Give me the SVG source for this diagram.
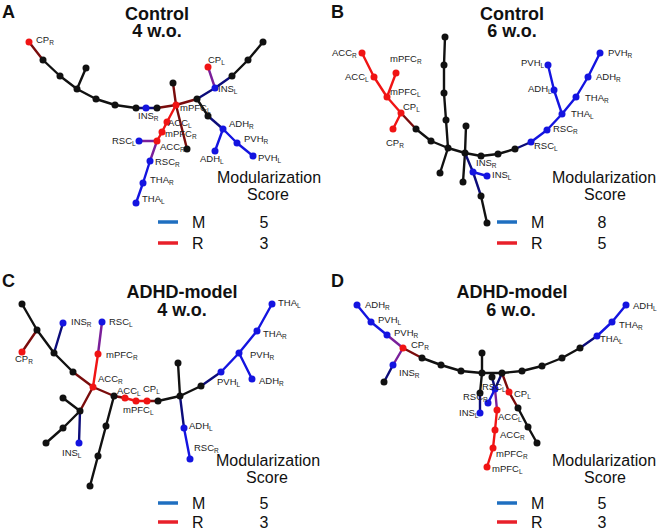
<svg xmlns="http://www.w3.org/2000/svg" width="657" height="531" viewBox="0 0 657 531">
<style>
.k{fill:#111}.r{fill:#f01414}.b{fill:#1414e0}
path{fill:none;stroke-width:2.4;stroke-linecap:round;stroke-linejoin:round}
.ek{stroke:#111}.er{stroke:#f01414}.eb{stroke:#1414e0}.edr{stroke:#7a0c0c}.edb{stroke:#0c0c7a}.ep{stroke:#7a1f9a}
.lb{font-family:"Liberation Sans",Arial,sans-serif;font-size:9.5px;fill:#222}
.s{font-size:6.5px}
.ttl{font-family:"Liberation Sans",Arial,sans-serif;font-size:18px;font-weight:bold;fill:#111;text-anchor:middle}
.pl{font-family:"Liberation Sans",Arial,sans-serif;font-size:18px;font-weight:bold;fill:#111}
.ms{font-family:"Liberation Sans",Arial,sans-serif;font-size:16px;fill:#111;text-anchor:middle}
.lg{font-family:"Liberation Sans",Arial,sans-serif;font-size:16px;fill:#111}
.lgb{stroke:#1f6fc0;stroke-width:3.5}.lgr{stroke:#e8202a;stroke-width:3.5}
</style>

<!-- ================= Panel A ================= -->
<g id="panelA">
<text class="pl" x="2" y="18">A</text>
<text class="ttl" x="157" y="20">Control</text>
<text class="ttl" x="157" y="37">4 w.o.</text>
<g id="A-connectors">
<path class="edr" d="M29,42 L43,60"/>
<path class="ek" d="M43,60 L60,76 L77,89 L96,99 L115,105 L136,108"/>
<path class="ek" d="M77,89 L86,68"/>
<path class="edb" d="M136,108 L146,108 L157,108"/>
<path class="edr" d="M157,108 L176,105"/>
<path class="edr" d="M176,105 L173,83"/>
<path class="edr" d="M176,105 L197,99"/>
<path class="edb" d="M197,99 L215,88 L232,76"/>
<path class="ek" d="M232,76 L248,60 L263,42"/>
<path class="ep" d="M215,88 L208,67"/>
<path class="er" d="M176,105 L167,122 L162,132 L157,141"/>
<path class="edr" d="M176,105 L187,149"/>
<path class="ep" d="M157,141 L139,141"/>
<path class="ep" d="M157,141 L150,161"/>
<path class="eb" d="M150,161 L143,183 L136,203"/>
<path class="ek" d="M197,99 L208,116"/>
<path class="edb" d="M208,116 L223,129"/>
<path class="eb" d="M223,129 L237,143 L253,156"/>
<path class="eb" d="M223,129 L215,151"/>
</g>
<g id="A-nodes">
<circle id="A-k1" class="k" cx="43" cy="60" r="3.5"/><circle id="A-k2" class="k" cx="60" cy="76" r="3.5"/>
<circle id="A-k3" class="k" cx="77" cy="89" r="3.5"/><circle id="A-k4" class="k" cx="86" cy="68" r="3.5"/>
<circle id="A-k5" class="k" cx="96" cy="99" r="3.5"/><circle id="A-k6" class="k" cx="115" cy="105" r="3.5"/>
<circle id="A-k7" class="k" cx="136" cy="108" r="3.5"/><circle id="A-k8" class="k" cx="157" cy="108" r="3.5"/>
<circle id="A-k9" class="k" cx="173" cy="83" r="3.5"/><circle id="A-k10" class="k" cx="197" cy="99" r="3.5"/>
<circle id="A-k11" class="k" cx="232" cy="76" r="3.5"/><circle id="A-k12" class="k" cx="248" cy="60" r="3.5"/>
<circle id="A-k13" class="k" cx="263" cy="42" r="3.5"/><circle id="A-k14" class="k" cx="187" cy="149" r="3.5"/>
<circle id="A-k15" class="k" cx="208" cy="116" r="3.5"/>
<g id="A-CPR"><circle class="r" cx="29" cy="42" r="3.5"/><text class="lb" x="36" y="43">CP<tspan class="s" dy="2">R</tspan></text></g>
<g id="A-CPL"><circle class="r" cx="208" cy="67" r="3.5"/><text class="lb" x="208" y="63">CP<tspan class="s" dy="2">L</tspan></text></g>
<g id="A-INSL"><circle class="b" cx="215" cy="88" r="3.5"/><text class="lb" x="218" y="92">INS<tspan class="s" dy="2">L</tspan></text></g>
<g id="A-INSR"><circle class="b" cx="146" cy="108" r="3.5"/><text class="lb" x="138" y="119">INS<tspan class="s" dy="2">R</tspan></text></g>
<g id="A-mPFCL"><circle class="r" cx="176" cy="105" r="3.5"/><text class="lb" x="180" y="111">mPFC<tspan class="s" dy="2">L</tspan></text></g>
<g id="A-ACCL"><circle class="r" cx="167" cy="122" r="3.5"/><text class="lb" x="168" y="126">ACC<tspan class="s" dy="2">L</tspan></text></g>
<g id="A-mPFCR"><circle class="r" cx="162" cy="132" r="3.5"/><text class="lb" x="165" y="137">mPFC<tspan class="s" dy="2">R</tspan></text></g>
<g id="A-ACCR"><circle class="r" cx="157" cy="141" r="3.5"/><text class="lb" x="160" y="150">ACC<tspan class="s" dy="2">R</tspan></text></g>
<g id="A-RSCL"><circle class="b" cx="139" cy="141" r="3.5"/><text class="lb" x="112" y="144">RSC<tspan class="s" dy="2">L</tspan></text></g>
<g id="A-RSCR"><circle class="b" cx="150" cy="161" r="3.5"/><text class="lb" x="155" y="165">RSC<tspan class="s" dy="2">R</tspan></text></g>
<g id="A-THAR"><circle class="b" cx="143" cy="183" r="3.5"/><text class="lb" x="150" y="183">THA<tspan class="s" dy="2">R</tspan></text></g>
<g id="A-THAL"><circle class="b" cx="136" cy="203" r="3.5"/><text class="lb" x="142" y="202">THA<tspan class="s" dy="2">L</tspan></text></g>
<g id="A-ADHR"><circle class="b" cx="223" cy="129" r="3.5"/><text class="lb" x="229" y="127">ADH<tspan class="s" dy="2">R</tspan></text></g>
<g id="A-PVHR"><circle class="b" cx="237" cy="143" r="3.5"/><text class="lb" x="244" y="142">PVH<tspan class="s" dy="2">R</tspan></text></g>
<g id="A-PVHL"><circle class="b" cx="253" cy="156" r="3.5"/><text class="lb" x="258" y="161">PVH<tspan class="s" dy="2">L</tspan></text></g>
<g id="A-ADHL"><circle class="b" cx="215" cy="151" r="3.5"/><text class="lb" x="200" y="162">ADH<tspan class="s" dy="2">L</tspan></text></g>
</g>
<g id="A-legend">
<text class="ms" x="269" y="183">Modularization</text>
<text class="ms" x="268" y="200">Score</text>
<line class="lgb" x1="158" y1="222" x2="178" y2="222"/>
<line class="lgr" x1="158" y1="243" x2="178" y2="243"/>
<text class="lg" x="192" y="228">M</text><text class="ms" x="264" y="228">5</text>
<text class="lg" x="192" y="249">R</text><text class="ms" x="264" y="249">3</text>
</g>
</g>

<!-- ================= Panel B ================= -->
<g id="panelB">
<text class="pl" x="331" y="18">B</text>
<text class="ttl" x="512" y="20">Control</text>
<text class="ttl" x="512" y="37">6 w.o.</text>
<g id="B-connectors">
<path class="er" d="M362,53 L374,77 L387,97 L401,113"/>
<path class="er" d="M396,73 L387,97"/>
<path class="er" d="M401,113 L393,129"/>
<path class="edr" d="M401,113 L416,129"/>
<path class="ek" d="M416,129 L431,141 L448,148"/>
<path class="ek" d="M445,37 L444,65 L444,93 L446,120 L448,148"/>
<path class="ek" d="M448,148 L440,173"/>
<path class="ek" d="M448,148 L465,153"/>
<path class="ek" d="M465,153 L466,126"/>
<path class="ek" d="M465,153 L463,182"/>
<path class="edb" d="M465,153 L473,172 L481,196"/>
<path class="ek" d="M481,196 L487,223"/>
<path class="eb" d="M473,172 L487,176"/>
<path class="ek" d="M465,153 L481,156 L498,154 L515,149"/>
<path class="edb" d="M515,149 L531,142"/>
<path class="eb" d="M531,142 L547,130 L562,114"/>
<path class="eb" d="M562,114 L554,90 L548,65"/>
<path class="eb" d="M562,114 L576,97 L588,77 L600,53"/>
</g>
<g id="B-nodes">
<circle id="B-k1" class="k" cx="416" cy="129" r="3.5"/><circle id="B-k2" class="k" cx="431" cy="141" r="3.5"/>
<circle id="B-k3" class="k" cx="448" cy="148" r="3.5"/><circle id="B-k4" class="k" cx="445" cy="37" r="3.5"/>
<circle id="B-k5" class="k" cx="444" cy="65" r="3.5"/><circle id="B-k6" class="k" cx="444" cy="93" r="3.5"/>
<circle id="B-k7" class="k" cx="446" cy="120" r="3.5"/><circle id="B-k8" class="k" cx="440" cy="173" r="3.5"/>
<circle id="B-k9" class="k" cx="465" cy="153" r="3.5"/><circle id="B-k10" class="k" cx="466" cy="126" r="3.5"/>
<circle id="B-k11" class="k" cx="463" cy="182" r="3.5"/><circle id="B-k12" class="k" cx="481" cy="196" r="3.5"/>
<circle id="B-k13" class="k" cx="487" cy="223" r="3.5"/><circle id="B-k14" class="k" cx="481" cy="156" r="3.5"/>
<circle id="B-k15" class="k" cx="498" cy="154" r="3.5"/><circle id="B-k16" class="k" cx="515" cy="149" r="3.5"/>
<g id="B-ACCR"><circle class="r" cx="362" cy="53" r="3.5"/><text class="lb" x="332" y="56">ACC<tspan class="s" dy="2">R</tspan></text></g>
<g id="B-ACCL"><circle class="r" cx="374" cy="77" r="3.5"/><text class="lb" x="345" y="80">ACC<tspan class="s" dy="2">L</tspan></text></g>
<g id="B-mPFCR"><circle class="r" cx="396" cy="73" r="3.5"/><text class="lb" x="390" y="62">mPFC<tspan class="s" dy="2">R</tspan></text></g>
<g id="B-mPFCL"><circle class="r" cx="387" cy="97" r="3.5"/><text class="lb" x="390" y="95">mPFC<tspan class="s" dy="2">L</tspan></text></g>
<g id="B-CPL"><circle class="r" cx="401" cy="113" r="3.5"/><text class="lb" x="403" y="110">CP<tspan class="s" dy="2">L</tspan></text></g>
<g id="B-CPR"><circle class="r" cx="393" cy="129" r="3.5"/><text class="lb" x="386" y="146">CP<tspan class="s" dy="2">R</tspan></text></g>
<g id="B-PVHR"><circle class="b" cx="600" cy="53" r="3.5"/><text class="lb" x="608" y="56">PVH<tspan class="s" dy="2">R</tspan></text></g>
<g id="B-ADHR"><circle class="b" cx="588" cy="77" r="3.5"/><text class="lb" x="596" y="80">ADH<tspan class="s" dy="2">R</tspan></text></g>
<g id="B-THAR"><circle class="b" cx="576" cy="97" r="3.5"/><text class="lb" x="585" y="101">THA<tspan class="s" dy="2">R</tspan></text></g>
<g id="B-PVHL"><circle class="b" cx="548" cy="65" r="3.5"/><text class="lb" x="521" y="66">PVH<tspan class="s" dy="2">L</tspan></text></g>
<g id="B-ADHL"><circle class="b" cx="554" cy="90" r="3.5"/><text class="lb" x="528" y="92">ADH<tspan class="s" dy="2">L</tspan></text></g>
<g id="B-THAL"><circle class="b" cx="562" cy="114" r="3.5"/><text class="lb" x="571" y="117">THA<tspan class="s" dy="2">L</tspan></text></g>
<g id="B-RSCR"><circle class="b" cx="547" cy="130" r="3.5"/><text class="lb" x="553" y="132">RSC<tspan class="s" dy="2">R</tspan></text></g>
<g id="B-RSCL"><circle class="b" cx="531" cy="142" r="3.5"/><text class="lb" x="534" y="149">RSC<tspan class="s" dy="2">L</tspan></text></g>
<g id="B-INSR"><circle class="b" cx="473" cy="172" r="3.5"/><text class="lb" x="476" y="166">INS<tspan class="s" dy="2">R</tspan></text></g>
<g id="B-INSL"><circle class="b" cx="487" cy="176" r="3.5"/><text class="lb" x="492" y="178">INS<tspan class="s" dy="2">L</tspan></text></g>
</g>
<g id="B-legend">
<text class="ms" x="604" y="183">Modularization</text>
<text class="ms" x="605" y="200">Score</text>
<line class="lgb" x1="497" y1="222" x2="517" y2="222"/>
<line class="lgr" x1="497" y1="243" x2="517" y2="243"/>
<text class="lg" x="531" y="228">M</text><text class="ms" x="602" y="228">8</text>
<text class="lg" x="531" y="249">R</text><text class="ms" x="602" y="249">5</text>
</g>
</g>

<!-- ================= Panel C ================= -->
<g id="panelC">
<text class="pl" x="2" y="287">C</text>
<text class="ttl" x="182" y="298">ADHD-model</text>
<text class="ttl" x="182" y="316">4 w.o.</text>
<g id="C-connectors">
<path class="ek" d="M22,304 L37,330 L54,353 L73,372"/>
<path class="edr" d="M37,330 L22,352"/>
<path class="edb" d="M54,353 L63,323"/>
<path class="edr" d="M73,372 L93,387"/>
<path class="ep" d="M102,322 L98,354"/>
<path class="er" d="M98,354 L93,387"/>
<path class="edr" d="M93,387 L80,411"/>
<path class="ek" d="M80,411 L63,398"/>
<path class="ek" d="M80,411 L63,428 L46,443"/>
<path class="edb" d="M80,411 L79,443"/>
<path class="edr" d="M93,387 L114,396 L125,398"/>
<path class="er" d="M125,398 L136,401 L147,401"/>
<path class="edr" d="M147,401 L158,401"/>
<path class="ek" d="M158,401 L180,396"/>
<path class="ek" d="M114,396 L106,426 L98,456 L90,486"/>
<path class="ek" d="M180,396 L178,363"/>
<path class="edb" d="M180,396 L184,428"/>
<path class="eb" d="M184,428 L190,459"/>
<path class="ek" d="M180,396 L201,386"/>
<path class="edb" d="M201,386 L221,372"/>
<path class="eb" d="M221,372 L239,353 L252,379"/>
<path class="eb" d="M239,353 L257,331 L272,304"/>
</g>
<g id="C-nodes">
<circle id="C-k1" class="k" cx="22" cy="304" r="3.5"/><circle id="C-k2" class="k" cx="37" cy="330" r="3.5"/>
<circle id="C-k3" class="k" cx="54" cy="353" r="3.5"/><circle id="C-k4" class="k" cx="73" cy="372" r="3.5"/>
<circle id="C-k5" class="k" cx="80" cy="411" r="3.5"/><circle id="C-k6" class="k" cx="63" cy="398" r="3.5"/>
<circle id="C-k7" class="k" cx="63" cy="428" r="3.5"/><circle id="C-k8" class="k" cx="46" cy="443" r="3.5"/>
<circle id="C-k9" class="k" cx="114" cy="396" r="3.5"/><circle id="C-k10" class="k" cx="158" cy="401" r="3.5"/>
<circle id="C-k11" class="k" cx="180" cy="396" r="3.5"/><circle id="C-k12" class="k" cx="178" cy="363" r="3.5"/>
<circle id="C-k13" class="k" cx="106" cy="426" r="3.5"/><circle id="C-k14" class="k" cx="98" cy="456" r="3.5"/>
<circle id="C-k15" class="k" cx="90" cy="486" r="3.5"/><circle id="C-k16" class="k" cx="201" cy="386" r="3.5"/>
<g id="C-CPR"><circle class="r" cx="22" cy="352" r="3.5"/><text class="lb" x="15" y="362">CP<tspan class="s" dy="2">R</tspan></text></g>
<g id="C-INSR"><circle class="b" cx="63" cy="323" r="3.5"/><text class="lb" x="71" y="325">INS<tspan class="s" dy="2">R</tspan></text></g>
<g id="C-RSCL"><circle class="b" cx="102" cy="322" r="3.5"/><text class="lb" x="109" y="325">RSC<tspan class="s" dy="2">L</tspan></text></g>
<g id="C-mPFCR"><circle class="r" cx="98" cy="354" r="3.5"/><text class="lb" x="106" y="358">mPFC<tspan class="s" dy="2">R</tspan></text></g>
<g id="C-ACCR"><circle class="r" cx="93" cy="387" r="3.5"/><text class="lb" x="98" y="382">ACC<tspan class="s" dy="2">R</tspan></text></g>
<g id="C-ACCL"><circle class="r" cx="125" cy="398" r="3.5"/><text class="lb" x="117" y="394">ACC<tspan class="s" dy="2">L</tspan></text></g>
<g id="C-mPFCL"><circle class="r" cx="136" cy="401" r="3.5"/><text class="lb" x="123" y="413">mPFC<tspan class="s" dy="2">L</tspan></text></g>
<g id="C-CPL"><circle class="r" cx="147" cy="401" r="3.5"/><text class="lb" x="143" y="392">CP<tspan class="s" dy="2">L</tspan></text></g>
<g id="C-INSL"><circle class="b" cx="79" cy="443" r="3.5"/><text class="lb" x="62" y="456">INS<tspan class="s" dy="2">L</tspan></text></g>
<g id="C-ADHL"><circle class="b" cx="184" cy="428" r="3.5"/><text class="lb" x="189" y="429">ADH<tspan class="s" dy="2">L</tspan></text></g>
<g id="C-RSCR"><circle class="b" cx="190" cy="459" r="3.5"/><text class="lb" x="194" y="451">RSC<tspan class="s" dy="2">R</tspan></text></g>
<g id="C-PVHL"><circle class="b" cx="221" cy="372" r="3.5"/><text class="lb" x="217" y="385">PVH<tspan class="s" dy="2">L</tspan></text></g>
<g id="C-PVHR"><circle class="b" cx="239" cy="353" r="3.5"/><text class="lb" x="250" y="358">PVH<tspan class="s" dy="2">R</tspan></text></g>
<g id="C-ADHR"><circle class="b" cx="252" cy="379" r="3.5"/><text class="lb" x="259" y="384">ADH<tspan class="s" dy="2">R</tspan></text></g>
<g id="C-THAR"><circle class="b" cx="257" cy="331" r="3.5"/><text class="lb" x="263" y="337">THA<tspan class="s" dy="2">R</tspan></text></g>
<g id="C-THAL"><circle class="b" cx="272" cy="304" r="3.5"/><text class="lb" x="278" y="306">THA<tspan class="s" dy="2">L</tspan></text></g>
</g>
<g id="C-legend">
<text class="ms" x="268" y="466">Modularization</text>
<text class="ms" x="267" y="483">Score</text>
<line class="lgb" x1="158" y1="503" x2="178" y2="503"/>
<line class="lgr" x1="158" y1="522" x2="178" y2="522"/>
<text class="lg" x="192" y="509">M</text><text class="ms" x="264" y="509">5</text>
<text class="lg" x="192" y="528">R</text><text class="ms" x="264" y="528">3</text>
</g>
</g>

<!-- ================= Panel D ================= -->
<g id="panelD">
<text class="pl" x="331" y="287">D</text>
<text class="ttl" x="512" y="298">ADHD-model</text>
<text class="ttl" x="511" y="316">6 w.o.</text>
<g id="D-connectors">
<path class="eb" d="M357,305 L371,322 L387,335"/>
<path class="ep" d="M387,335 L403,348 L393,365"/>
<path class="edb" d="M393,365 L384,382"/>
<path class="edr" d="M403,348 L422,358"/>
<path class="ek" d="M422,358 L441,365 L461,371 L482,373 L502,373 L522,371 L542,366 L562,358 L580,348"/>
<path class="edb" d="M580,348 L597,336"/>
<path class="eb" d="M597,336 L612,322 L626,305"/>
<path class="ek" d="M482,373 L482,353"/>
<path class="ek" d="M482,373 L480,393"/>
<path class="edb" d="M480,393 L480,413"/>
<path class="edr" d="M502,373 L509,392 L518,408"/>
<path class="ek" d="M518,408 L528,427 L537,443"/>
<path class="edb" d="M502,373 L495,389"/>
<path class="edb" d="M492,377 L495,389"/>
<path class="eb" d="M495,389 L488,403"/>
<path class="ep" d="M495,389 L497,410"/>
<path class="er" d="M497,410 L495,430 L493,448 L487,467"/>
</g>
<g id="D-nodes">
<circle id="D-k1" class="k" cx="384" cy="382" r="3.5"/><circle id="D-k2" class="k" cx="422" cy="358" r="3.5"/>
<circle id="D-k3" class="k" cx="441" cy="365" r="3.5"/><circle id="D-k4" class="k" cx="461" cy="371" r="3.5"/>
<circle id="D-k5" class="k" cx="482" cy="373" r="3.5"/><circle id="D-k6" class="k" cx="482" cy="353" r="3.5"/>
<circle id="D-k7" class="k" cx="480" cy="393" r="3.5"/><circle id="D-k8" class="k" cx="502" cy="373" r="3.5"/>
<circle id="D-k9" class="k" cx="522" cy="371" r="3.5"/><circle id="D-k10" class="k" cx="542" cy="366" r="3.5"/>
<circle id="D-k11" class="k" cx="562" cy="358" r="3.5"/><circle id="D-k12" class="k" cx="580" cy="348" r="3.5"/>
<circle id="D-k13" class="k" cx="518" cy="408" r="3.5"/><circle id="D-k14" class="k" cx="528" cy="427" r="3.5"/>
<circle id="D-k15" class="k" cx="537" cy="443" r="3.5"/><circle id="D-k16" class="k" cx="492" cy="377" r="3.5"/>
<g id="D-ADHR"><circle class="b" cx="357" cy="305" r="3.5"/><text class="lb" x="365" y="308">ADH<tspan class="s" dy="2">R</tspan></text></g>
<g id="D-PVHL"><circle class="b" cx="371" cy="322" r="3.5"/><text class="lb" x="378" y="323">PVH<tspan class="s" dy="2">L</tspan></text></g>
<g id="D-PVHR"><circle class="b" cx="387" cy="335" r="3.5"/><text class="lb" x="394" y="336">PVH<tspan class="s" dy="2">R</tspan></text></g>
<g id="D-CPR"><circle class="r" cx="403" cy="348" r="3.5"/><text class="lb" x="411" y="348">CP<tspan class="s" dy="2">R</tspan></text></g>
<g id="D-INSR"><circle class="b" cx="393" cy="365" r="3.5"/><text class="lb" x="399" y="376">INS<tspan class="s" dy="2">R</tspan></text></g>
<g id="D-THAL"><circle class="b" cx="597" cy="336" r="3.5"/><text class="lb" x="600" y="342">THA<tspan class="s" dy="2">L</tspan></text></g>
<g id="D-THAR"><circle class="b" cx="612" cy="322" r="3.5"/><text class="lb" x="619" y="328">THA<tspan class="s" dy="2">R</tspan></text></g>
<g id="D-ADHL"><circle class="b" cx="626" cy="305" r="3.5"/><text class="lb" x="633" y="309">ADH<tspan class="s" dy="2">L</tspan></text></g>
<g id="D-INSL"><circle class="b" cx="480" cy="413" r="3.5"/><text class="lb" x="459" y="416">INS<tspan class="s" dy="2">L</tspan></text></g>
<g id="D-RSCR"><circle class="b" cx="488" cy="403" r="3.5"/><text class="lb" x="463" y="400">RSC<tspan class="s" dy="2">R</tspan></text></g>
<g id="D-RSCL"><circle class="b" cx="495" cy="389" r="3.5"/><text class="lb" x="482" y="390">RSC<tspan class="s" dy="2">L</tspan></text></g>
<g id="D-CPL"><circle class="r" cx="509" cy="392" r="3.5"/><text class="lb" x="514" y="397">CP<tspan class="s" dy="2">L</tspan></text></g>
<g id="D-ACCL"><circle class="r" cx="497" cy="410" r="3.5"/><text class="lb" x="498" y="420">ACC<tspan class="s" dy="2">L</tspan></text></g>
<g id="D-ACCR"><circle class="r" cx="495" cy="430" r="3.5"/><text class="lb" x="500" y="438">ACC<tspan class="s" dy="2">R</tspan></text></g>
<g id="D-mPFCR"><circle class="r" cx="493" cy="448" r="3.5"/><text class="lb" x="496" y="457">mPFC<tspan class="s" dy="2">R</tspan></text></g>
<g id="D-mPFCL"><circle class="r" cx="487" cy="467" r="3.5"/><text class="lb" x="492" y="472">mPFC<tspan class="s" dy="2">L</tspan></text></g>
</g>
<g id="D-legend">
<text class="ms" x="604" y="466">Modularization</text>
<text class="ms" x="605" y="483">Score</text>
<line class="lgb" x1="497" y1="503" x2="517" y2="503"/>
<line class="lgr" x1="497" y1="522" x2="517" y2="522"/>
<text class="lg" x="531" y="509">M</text><text class="ms" x="602" y="509">5</text>
<text class="lg" x="531" y="528">R</text><text class="ms" x="602" y="528">3</text>
</g>
</g>
</svg>
